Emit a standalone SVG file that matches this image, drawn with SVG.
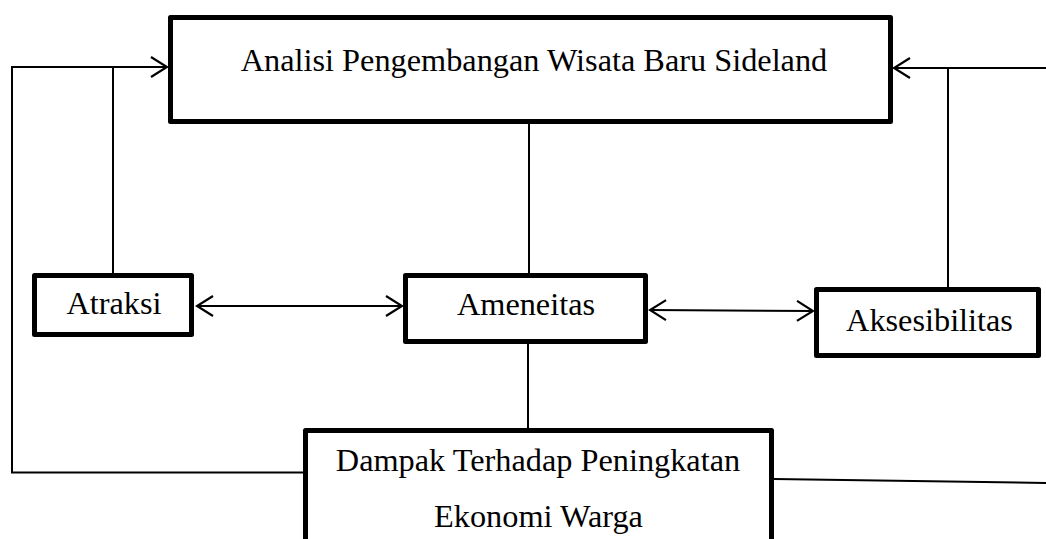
<svg xmlns="http://www.w3.org/2000/svg" width="1046" height="539" viewBox="0 0 1046 539">
  <style>
    .box { fill: #ffffff; stroke: #000000; stroke-width: 5; stroke-linejoin: round; }
    .conn { fill: none; stroke: #000000; stroke-width: 2; }
    .lbl { font-family: "Liberation Serif", "Times New Roman", serif; font-size: 32.3px; fill: #000000; text-anchor: middle; }
  </style>
  <defs>
    <marker id="arr" viewBox="-20 -12 22 24" refX="0" refY="0" markerWidth="22" markerHeight="24" markerUnits="userSpaceOnUse" orient="auto-start-reverse">
      <path d="M-16 -10 L0 0 L-16 10" fill="none" stroke="#000000" stroke-width="2.2"/>
    </marker>
  </defs>
  <rect width="1046" height="539" fill="#ffffff"/>
  <g id="connectors">
    <path class="conn" d="M303 472.5 H12 V67 H167" marker-end="url(#arr)"/>
    <path class="conn" d="M113 273 V67"/>
    <path class="conn" d="M1046 68 H894" marker-end="url(#arr)"/>
    <path class="conn" d="M948 68 V287"/>
    <path class="conn" d="M529 124 V273"/>
    <path class="conn" d="M528 343 V428"/>
    <path class="conn" d="M197 306 H402" marker-start="url(#arr)" marker-end="url(#arr)"/>
    <path class="conn" d="M650 310 L813 311" marker-start="url(#arr)" marker-end="url(#arr)"/>
    <path class="conn" d="M774 479 L1046 483"/>
  </g>
  <g id="node-analisi">
    <rect class="box" x="170.5" y="17.5" width="720" height="104"/>
    <text class="lbl" x="534" y="71">Analisi Pengembangan Wisata Baru Sideland</text>
  </g>
  <g id="node-atraksi">
    <rect class="box" x="34.5" y="275.5" width="157" height="59"/>
    <text class="lbl" x="114" y="314">Atraksi</text>
  </g>
  <g id="node-ameneitas">
    <rect class="box" x="405.5" y="275.5" width="240" height="66"/>
    <text class="lbl" x="526" y="315">Ameneitas</text>
  </g>
  <g id="node-aksesibilitas">
    <rect class="box" x="816.5" y="289.5" width="222" height="66"/>
    <text class="lbl" x="929.5" y="331">Aksesibilitas</text>
  </g>
  <g id="node-dampak">
    <rect class="box" x="305.5" y="430.5" width="466" height="130"/>
    <text class="lbl" x="538" y="471">Dampak Terhadap Peningkatan</text>
    <text class="lbl" x="538.5" y="527">Ekonomi Warga</text>
  </g>
</svg>
